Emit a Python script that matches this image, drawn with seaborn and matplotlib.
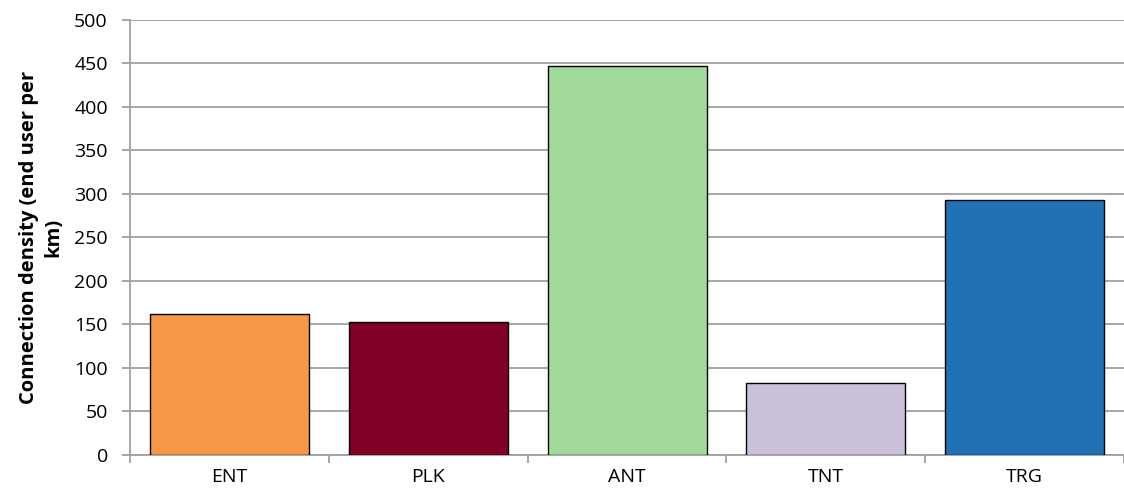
import matplotlib
matplotlib.use("Agg")
import matplotlib.pyplot as plt
import seaborn as sns
import pandas as pd
import numpy as np

# === Data === #
sites = ["ENT", "PLK", "ANT", "TNT", "TRG"]
density = [162, 153, 447, 83, 293]
colors = ["#F79646", "#800026", "#A1D99B", "#CBC0D9", "#2171B5"]

df = pd.DataFrame({"site": sites, "density": density})

sns.set_style("white")
plt.rcParams["font.family"] = ["Open Sans", "DejaVu Sans"]

fig = plt.figure(figsize=(11.24, 4.97), dpi=100)
ax = fig.add_axes([0.1157, 0.0845, 0.8843, 0.8755])

sns.barplot(data=df, x="site", y="density", hue="site", palette=colors,
            legend=False, width=0.8, edgecolor="black", linewidth=1,
            saturation=1, ax=ax, zorder=3)

ax.set_ylim(0, 500)
ax.set_xlim(-0.5, 4.5)
ax.set_yticks(np.arange(0, 501, 50))
ax.yaxis.grid(True, color="#a0a0a0", linewidth=1.3, zorder=0)
ax.set_axisbelow(True)

for s in ["top", "right"]:
    ax.spines[s].set_visible(False)
for s in ["left", "bottom"]:
    ax.spines[s].set_color("#a0a0a0")
    ax.spines[s].set_linewidth(1.3)

ax.tick_params(axis="y", direction="out", length=6, width=1.3, color="#a0a0a0",
               labelsize=14, left=True, pad=10, labelcolor="black")
ax.tick_params(axis="x", which="major", length=0, labelsize=14, pad=9,
               labelcolor="black")
ax.set_xticks(np.arange(-0.5, 5, 1), minor=True)
ax.tick_params(axis="x", which="minor", direction="out", length=6, width=1.3,
               color="#a0a0a0", bottom=True)

ax.set_xlabel("")
ax.set_ylabel("Connection density (end user per\nkm)", fontsize=14.5,
              fontweight="bold", labelpad=8, color="black", linespacing=1.25)

fig.savefig("out.png", dpi=100)
